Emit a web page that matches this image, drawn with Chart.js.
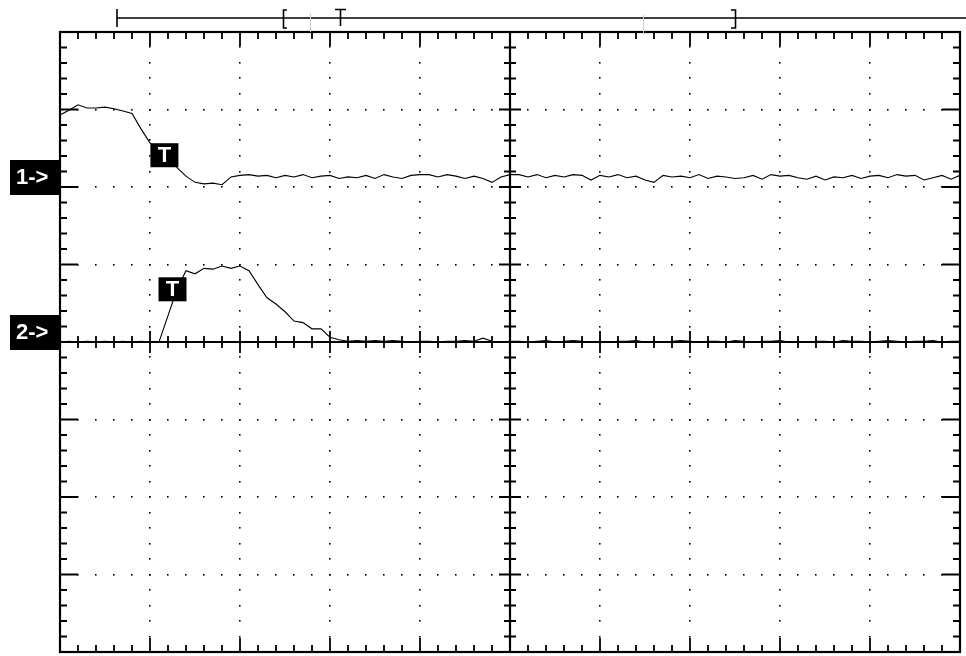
<!DOCTYPE html>
<html>
<head>
<meta charset="utf-8">
<script src="https://cdn.jsdelivr.net/npm/chart.js@4"></script>
<style>
  body { margin: 0; background: #fff; }
  canvas { display: block; }
</style>
</head>
<body>
<canvas id="scope" width="966" height="656"></canvas>
<script>
// samples are every 0.1 division, 10 divisions across the screen
const sampleStep = 0.1;

// channel 1, divisions above its 1-> marker
const ch1Values = [
  0.93, 0.99, 1.06, 1.02, 1.02, 1.03, 1.01, 0.98, 0.95, 0.75,
  0.57, 0.45, 0.35, 0.25, 0.14, 0.06, 0.04, 0.05, 0.03, 0.13,
  0.15, 0.16, 0.14, 0.15, 0.12, 0.15, 0.13, 0.16, 0.12, 0.14,
  0.15, 0.11, 0.13, 0.12, 0.15, 0.11, 0.16, 0.13, 0.11, 0.15,
  0.16, 0.16, 0.13, 0.16, 0.14, 0.11, 0.14, 0.11, 0.06, 0.13,
  0.16, 0.16, 0.13, 0.16, 0.12, 0.15, 0.13, 0.16, 0.15, 0.09,
  0.15, 0.13, 0.16, 0.12, 0.14, 0.09, 0.06, 0.15, 0.13, 0.14,
  0.12, 0.16, 0.11, 0.14, 0.13, 0.11, 0.12, 0.15, 0.10, 0.16,
  0.14, 0.15, 0.12, 0.10, 0.14, 0.09, 0.13, 0.12, 0.15, 0.11,
  0.14, 0.15, 0.12, 0.16, 0.14, 0.15, 0.09, 0.12, 0.15, 0.10,
  0.15
];

// channel 2, divisions above its 2-> marker
const ch2Values = [
  0.00, 0.01, 0.00, 0.01, 0.00, 0.01, 0.00, 0.01, 0.00, 0.01,
  0.00, 0.00, 0.34, 0.68, 0.92, 0.88, 0.95, 0.94, 0.98, 0.95,
  0.98, 0.92, 0.74, 0.57, 0.49, 0.39, 0.27, 0.25, 0.17, 0.17,
  0.06, 0.03, 0.01, 0.02, 0.01, 0.02, 0.01, 0.02, 0.01, 0.00,
  0.01, 0.01, 0.00, 0.01, 0.01, 0.02, 0.01, 0.05, 0.01, 0.00,
  0.01, 0.01, 0.00, 0.01, 0.02, 0.00, 0.01, 0.02, 0.01, 0.00,
  0.01, 0.00, 0.01, 0.01, 0.02, 0.00, 0.01, 0.00, 0.01, 0.02,
  0.01, 0.00, 0.01, 0.01, 0.00, 0.02, 0.01, 0.00, 0.01, 0.01,
  0.02, 0.00, 0.01, 0.00, 0.01, 0.01, 0.00, 0.02, 0.01, 0.01,
  0.00, 0.01, 0.02, 0.01, 0.00, 0.01, 0.01, 0.02, 0.00, 0.01,
  0.01
];

// channel reference levels (divisions from screen centre) and labels
const channelLabels = ['1->', '2->'];
const channelOffsets = [2, 0];

// trigger marks: [time div, level div above channel marker]
const triggerMarks = [[1.16, 0.41], [1.25, 0.68]];

function toPoints(values, offset) {
  return values.map((v, i) => ({ x: +(i * sampleStep).toFixed(2), y: v + offset }));
}

const black = '#000';

// draws the scope graticule, top time bar and channel labels
const graticule = {
  id: 'graticule',
  beforeDatasetsDraw(chart) {
    const { ctx, scales: { x, y } } = chart;
    const px = v => x.getPixelForValue(v);
    const py = v => y.getPixelForValue(v);
    ctx.save();
    ctx.fillStyle = black;
    ctx.strokeStyle = black;

    // dotted grid
    for (let j = -3; j <= 3; j++) {
      if (j === 0) continue;
      for (let i = 0; i <= 50; i++) {
        ctx.fillRect(Math.round(px(i * 0.2)) - 1, Math.round(py(j)) - 1, 1.6, 1.6);
      }
    }
    for (let i = 1; i <= 9; i++) {
      if (i === 5) continue;
      for (let k = 0; k <= 40; k++) {
        ctx.fillRect(Math.round(px(i)) - 1, Math.round(py(-4 + k * 0.2)) - 1, 1.6, 1.6);
      }
    }

    // border
    ctx.lineWidth = 2.2;
    ctx.strokeRect(px(0), py(4), px(10) - px(0), py(-4) - py(4));

    // ticks
    ctx.lineWidth = 1.8;
    ctx.beginPath();
    for (let i = 1; i < 50; i++) {
      const xx = px(i * 0.2);
      const major = i % 5 === 0;
      const lenTB = major ? 14 : 7;
      ctx.moveTo(xx, py(4)); ctx.lineTo(xx, py(4) + lenTB);
      ctx.moveTo(xx, py(-4)); ctx.lineTo(xx, py(-4) - lenTB);
      const lenC = major ? 11 : 6;
      ctx.moveTo(xx, py(0) - lenC); ctx.lineTo(xx, py(0) + lenC);
    }
    for (let k = 1; k < 40; k++) {
      const yy = py(-4 + k * 0.2);
      const major = k % 5 === 0;
      const lenLR = major ? 18 : 7;
      ctx.moveTo(px(0), yy); ctx.lineTo(px(0) + lenLR, yy);
      ctx.moveTo(px(10), yy); ctx.lineTo(px(10) - lenLR, yy);
      const lenC = major ? 11 : 6;
      ctx.moveTo(px(5) - lenC, yy); ctx.lineTo(px(5) + lenC, yy);
    }
    ctx.stroke();

    // centre axes
    ctx.lineWidth = 2.2;
    ctx.beginPath();
    ctx.moveTo(px(0), py(0)); ctx.lineTo(px(10), py(0));
    ctx.moveTo(px(5), py(4)); ctx.lineTo(px(5), py(-4));
    ctx.stroke();

    // top time bar
    ctx.lineWidth = 1.6;
    ctx.beginPath();
    ctx.moveTo(117, 18); ctx.lineTo(966, 18);
    ctx.moveTo(117, 9); ctx.lineTo(117, 27);
    ctx.moveTo(287, 10); ctx.lineTo(283.5, 10); ctx.lineTo(283.5, 28); ctx.lineTo(287, 28);
    ctx.moveTo(335, 9.5); ctx.lineTo(346, 9.5);
    ctx.moveTo(340.5, 9.5); ctx.lineTo(340.5, 26);
    ctx.moveTo(731, 10); ctx.lineTo(735.5, 10); ctx.lineTo(735.5, 28); ctx.lineTo(731, 28);
    ctx.stroke();
    ctx.strokeStyle = '#ccc';
    ctx.lineWidth = 1;
    ctx.beginPath();
    ctx.moveTo(310.5, 13); ctx.lineTo(310.5, 32);
    ctx.moveTo(643.5, 15); ctx.lineTo(643.5, 33);
    ctx.stroke();

    // channel labels
    ctx.font = 'bold 22px "Liberation Sans"';
    ctx.textBaseline = 'middle';
    ctx.textAlign = 'left';
    channelLabels.forEach((lab, c) => {
      const yy = py(channelOffsets[c]);
      ctx.fillStyle = black;
      ctx.fillRect(10, yy - 27, px(0) - 10, 35);
      ctx.fillStyle = '#fff';
      ctx.fillText(lab, 16, yy - 9);
    });
    ctx.restore();
  },
  afterDatasetsDraw(chart) {
    const { ctx, scales: { x, y } } = chart;
    ctx.save();
    ctx.font = 'bold 22px "Liberation Sans"';
    ctx.textAlign = 'center';
    ctx.textBaseline = 'middle';
    triggerMarks.forEach(([t, lvl], c) => {
      const cx = x.getPixelForValue(t);
      const cy = y.getPixelForValue(lvl + channelOffsets[c]);
      ctx.fillStyle = black;
      ctx.fillRect(cx - 14, cy - 12, 28, 24);
      ctx.fillStyle = '#fff';
      ctx.fillText('T', cx, cy + 1);
    });
    ctx.restore();
  }
};

const traceStyle = {
  borderColor: black,
  borderWidth: 1.1,
  pointRadius: 0,
  tension: 0,
  fill: false
};

new Chart(document.getElementById('scope'), {
  type: 'line',
  data: {
    datasets: [
      { ...traceStyle, label: 'CH1', data: toPoints(ch1Values, channelOffsets[0]) },
      { ...traceStyle, label: 'CH2', data: toPoints(ch2Values, channelOffsets[1]) }
    ]
  },
  options: {
    responsive: false,
    devicePixelRatio: 1,
    animation: false,
    layout: { padding: { left: 60, right: 6, top: 32, bottom: 4 } },
    scales: {
      x: { type: 'linear', min: 0, max: 10, display: false },
      y: { type: 'linear', min: -4, max: 4, display: false }
    },
    plugins: {
      legend: { display: false },
      tooltip: { enabled: false }
    }
  },
  plugins: [graticule]
});
</script>
</body>
</html>
